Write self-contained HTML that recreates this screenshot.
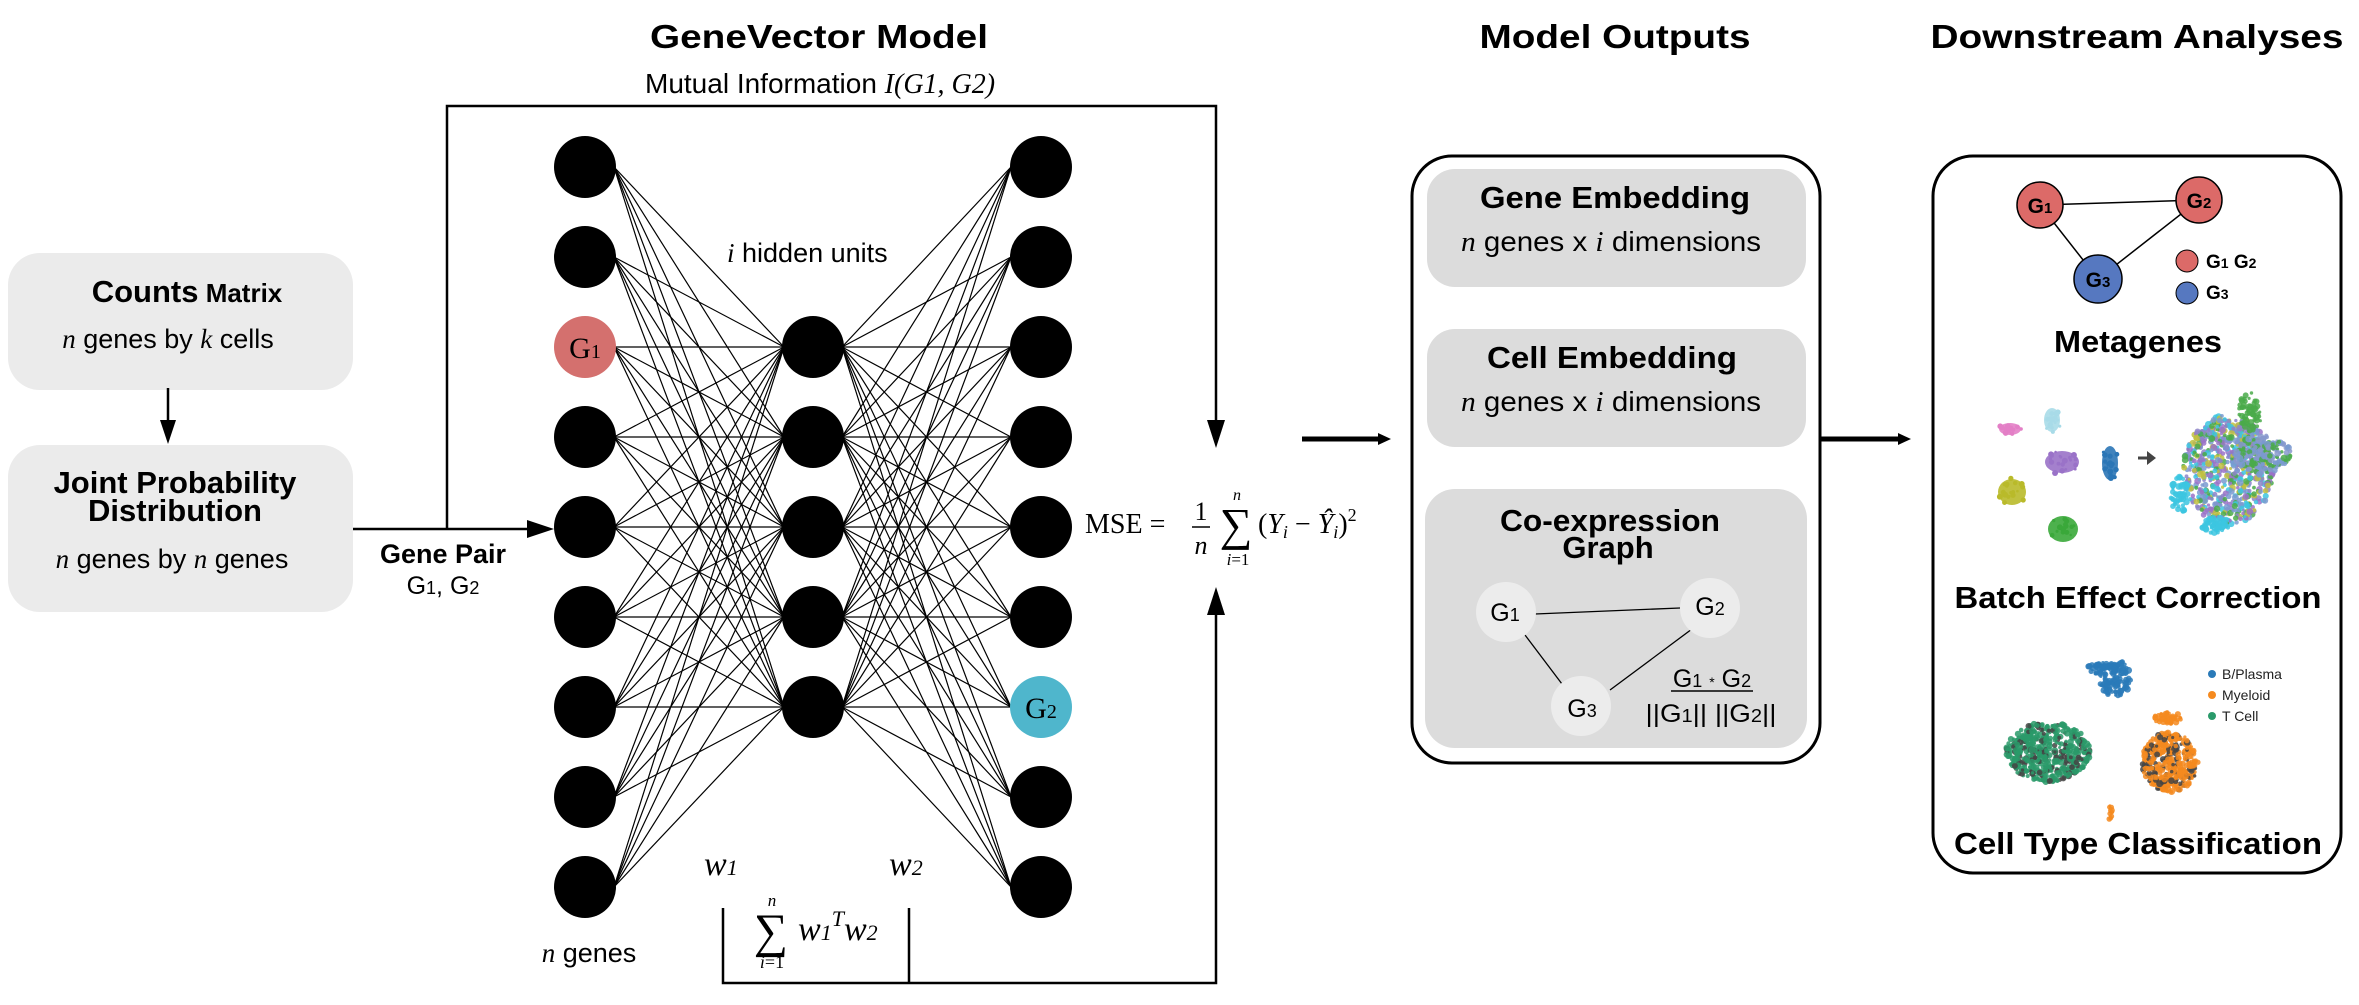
<!DOCTYPE html>
<html><head><meta charset="utf-8"><style>
html,body{margin:0;padding:0;background:#fff;width:2359px;height:1005px;overflow:hidden}
svg{display:block}
.b{font-family:"Liberation Sans",sans-serif;font-weight:bold}
.s{font-family:"Liberation Sans",sans-serif}
.r{font-family:"Liberation Serif",serif}
</style></head><body>
<svg width="2359" height="1005" viewBox="0 0 2359 1005" xmlns="http://www.w3.org/2000/svg">
<!-- Titles -->
<text class="b" x="819" y="48" font-size="33" text-anchor="middle" textLength="338" lengthAdjust="spacingAndGlyphs">GeneVector Model</text>
<text class="b" x="1615" y="48" font-size="33" text-anchor="middle" textLength="271" lengthAdjust="spacingAndGlyphs">Model Outputs</text>
<text class="b" x="2137" y="48" font-size="33" text-anchor="middle" textLength="413" lengthAdjust="spacingAndGlyphs">Downstream Analyses</text>
<text x="645" y="93" font-size="28"><tspan class="s">Mutual Information </tspan><tspan class="r" font-style="italic">I(G1, G2)</tspan></text>

<!-- Left boxes -->
<rect x="8" y="253" width="345" height="137" rx="32" fill="#ebebeb"/>
<text x="187" y="302" text-anchor="middle" class="b"><tspan font-size="31">Counts</tspan><tspan font-size="26"> Matrix</tspan></text>
<text x="168" y="348" text-anchor="middle" font-size="27"><tspan class="r" font-style="italic">n</tspan><tspan class="s"> genes by </tspan><tspan class="r" font-style="italic">k</tspan><tspan class="s"> cells</tspan></text>
<line x1="168" y1="388" x2="168" y2="440" stroke="#000" stroke-width="2.5"/>
<path d="M160,420 L176,420 L168,444z" fill="#000"/>
<rect x="8" y="445" width="345" height="167" rx="32" fill="#ebebeb"/>
<text class="b" x="175" y="493" font-size="31" text-anchor="middle">Joint Probability</text>
<text class="b" x="175" y="521" font-size="31" text-anchor="middle">Distribution</text>
<text x="172" y="568" text-anchor="middle" font-size="27"><tspan class="r" font-style="italic">n</tspan><tspan class="s"> genes by </tspan><tspan class="r" font-style="italic">n</tspan><tspan class="s"> genes</tspan></text>

<!-- connectors left -->
<line x1="353" y1="529" x2="530" y2="529" stroke="#000" stroke-width="2.5"/>
<path d="M527,520 L554,529 L527,538z" fill="#000"/>
<polyline points="447,529 447,106 1216,106 1216,430" fill="none" stroke="#000" stroke-width="2.5"/>
<path d="M1207,420 L1225,420 L1216,448z" fill="#000"/>
<text class="b" x="443" y="563" font-size="27" text-anchor="middle">Gene Pair</text>
<text class="s" x="443" y="594" font-size="25" text-anchor="middle">G<tspan font-size="18">1</tspan>, G<tspan font-size="18">2</tspan></text>

<!-- bottom bracket -->
<polyline points="723,908 723,983 1216,983 1216,605" fill="none" stroke="#000" stroke-width="2.5"/>
<line x1="909" y1="908" x2="909" y2="983" stroke="#000" stroke-width="2.5"/>
<path d="M1207,615 L1225,615 L1216,587z" fill="#000"/>

<g id="net" stroke="#000" stroke-width="1.2"></g>
<g id="nodes"></g>
<text x="727" y="262" font-size="27"><tspan class="r" font-style="italic">i</tspan><tspan class="s"> hidden units</tspan></text>
<text x="589" y="962" font-size="27" text-anchor="middle"><tspan class="r" font-style="italic">n</tspan><tspan class="s"> genes</tspan></text>
<text class="r" font-style="italic" x="704" y="875" font-size="34">w<tspan font-size="22">1</tspan></text>
<text class="r" font-style="italic" x="889" y="875" font-size="34">w<tspan font-size="22">2</tspan></text>
<text class="r" x="771" y="947" font-size="48" text-anchor="middle">∑</text>
<text class="r" font-style="italic" x="772" y="906" font-size="17" text-anchor="middle">n</text>
<text class="r" x="772" y="968" font-size="18" text-anchor="middle"><tspan font-style="italic">i</tspan>=1</text>
<text class="r" font-style="italic" x="798" y="940" font-size="34">w<tspan font-size="22">1</tspan><tspan font-size="22" dy="-14">T</tspan><tspan dy="14">w</tspan><tspan font-size="22">2</tspan></text>

<!-- MSE -->
<text class="r" x="1085" y="533" font-size="28">MSE =</text>
<text class="r" x="1201" y="520" font-size="26" text-anchor="middle">1</text>
<line x1="1192" y1="527" x2="1210" y2="527" stroke="#000" stroke-width="1.5"/>
<text class="r" font-style="italic" x="1201" y="554" font-size="26" text-anchor="middle">n</text>
<text class="r" x="1236" y="540" font-size="46" text-anchor="middle">∑</text>
<text class="r" font-style="italic" x="1237" y="500" font-size="16" text-anchor="middle">n</text>
<text class="r" x="1238" y="565" font-size="17" text-anchor="middle"><tspan font-style="italic">i</tspan>=1</text>
<text class="r" x="1258" y="533" font-size="28">(<tspan font-style="italic">Y</tspan><tspan font-style="italic" font-size="18" dy="5">i</tspan><tspan dy="-5"> − </tspan><tspan font-style="italic">Ŷ</tspan><tspan font-style="italic" font-size="18" dy="5">i</tspan><tspan dy="-5">)</tspan><tspan font-size="18" dy="-12">2</tspan></text>

<!-- arrows -->
<line x1="1302" y1="439" x2="1380" y2="439" stroke="#000" stroke-width="5"/>
<path d="M1378,433 L1391,439 L1378,445z" fill="#000"/>
<line x1="1821" y1="439" x2="1900" y2="439" stroke="#000" stroke-width="5"/>
<path d="M1898,433 L1911,439 L1898,445z" fill="#000"/>

<!-- Model outputs -->
<rect x="1412" y="156" width="408" height="607" rx="40" fill="#fff" stroke="#000" stroke-width="3"/>
<rect x="1427" y="169" width="379" height="118" rx="28" fill="#dcdcdc"/>
<text class="b" x="1615" y="208" font-size="31" text-anchor="middle" textLength="270" lengthAdjust="spacingAndGlyphs">Gene Embedding</text>
<text x="1611" y="251" font-size="28" text-anchor="middle" textLength="300" lengthAdjust="spacingAndGlyphs"><tspan class="r" font-style="italic">n</tspan><tspan class="s"> genes  x </tspan><tspan class="r" font-style="italic">i</tspan><tspan class="s"> dimensions</tspan></text>
<rect x="1427" y="329" width="379" height="118" rx="28" fill="#dcdcdc"/>
<text class="b" x="1612" y="368" font-size="31" text-anchor="middle" textLength="250" lengthAdjust="spacingAndGlyphs">Cell Embedding</text>
<text x="1611" y="411" font-size="28" text-anchor="middle" textLength="300" lengthAdjust="spacingAndGlyphs"><tspan class="r" font-style="italic">n</tspan><tspan class="s"> genes  x </tspan><tspan class="r" font-style="italic">i</tspan><tspan class="s"> dimensions</tspan></text>
<rect x="1425" y="489" width="382" height="259" rx="30" fill="#dcdcdc"/>
<text class="b" x="1610" y="531" font-size="31" text-anchor="middle" textLength="220" lengthAdjust="spacingAndGlyphs">Co-expression</text>
<text class="b" x="1608" y="558" font-size="31" text-anchor="middle">Graph</text>
<line x1="1535" y1="614" x2="1680" y2="608" stroke="#000" stroke-width="1.3"/>
<line x1="1525" y1="635" x2="1562" y2="684" stroke="#000" stroke-width="1.3"/>
<line x1="1692" y1="629" x2="1610" y2="690" stroke="#000" stroke-width="1.3"/>
<circle cx="1506" cy="612" r="30" fill="#ececec"/>
<circle cx="1710" cy="608" r="30" fill="#ececec"/>
<circle cx="1581" cy="706" r="30" fill="#ececec"/>
<text class="s" x="1505" y="621" font-size="25" text-anchor="middle">G<tspan font-size="18">1</tspan></text>
<text class="s" x="1710" y="615" font-size="25" text-anchor="middle">G<tspan font-size="18">2</tspan></text>
<text class="s" x="1582" y="717" font-size="25" text-anchor="middle">G<tspan font-size="18">3</tspan></text>
<text class="s" x="1712" y="687" font-size="25" text-anchor="middle">G<tspan font-size="18">1</tspan> <tspan font-size="14">*</tspan> G<tspan font-size="18">2</tspan></text>
<line x1="1671" y1="691" x2="1753" y2="691" stroke="#000" stroke-width="1.5"/>
<text class="s" x="1711" y="722" font-size="25" text-anchor="middle" textLength="131" lengthAdjust="spacingAndGlyphs">||G<tspan font-size="18">1</tspan>||  ||G<tspan font-size="18">2</tspan>||</text>

<!-- Downstream -->
<rect x="1933" y="156" width="408" height="717" rx="40" fill="#fff" stroke="#000" stroke-width="3"/>
<line x1="2040" y1="205" x2="2199" y2="200" stroke="#000" stroke-width="1.5"/>
<line x1="2040" y1="205" x2="2098" y2="279" stroke="#000" stroke-width="1.5"/>
<line x1="2199" y1="200" x2="2098" y2="279" stroke="#000" stroke-width="1.5"/>
<circle cx="2040" cy="205" r="23" fill="#dc6a68" stroke="#000" stroke-width="1.5"/>
<circle cx="2199" cy="200" r="23" fill="#dc6a68" stroke="#000" stroke-width="1.5"/>
<circle cx="2098" cy="279" r="24" fill="#5678c0" stroke="#000" stroke-width="1.5"/>
<text class="b" x="2040" y="213" font-size="21" text-anchor="middle">G<tspan font-size="15">1</tspan></text>
<text class="b" x="2199" y="208" font-size="21" text-anchor="middle">G<tspan font-size="15">2</tspan></text>
<text class="b" x="2098" y="287" font-size="21" text-anchor="middle">G<tspan font-size="15">3</tspan></text>
<circle cx="2187" cy="261" r="11" fill="#dc6a68" stroke="#000" stroke-width="1"/>
<circle cx="2187" cy="293" r="11" fill="#5678c0" stroke="#000" stroke-width="1"/>
<text class="b" x="2206" y="268" font-size="19">G<tspan font-size="14">1</tspan> G<tspan font-size="14">2</tspan></text>
<text class="b" x="2206" y="299" font-size="19">G<tspan font-size="14">3</tspan></text>
<text class="b" x="2138" y="352" font-size="31" text-anchor="middle" textLength="168" lengthAdjust="spacingAndGlyphs">Metagenes</text>

<g id="blobs"></g>
<path d="M2138,458 L2150,458" stroke="#444" stroke-width="3"/><path d="M2147,451 L2156,458 L2147,465z" fill="#444"/>
<text class="b" x="2138" y="608" font-size="31" text-anchor="middle" textLength="367" lengthAdjust="spacingAndGlyphs">Batch Effect Correction</text>
<circle cx="2212" cy="674" r="4" fill="#2a7ab8"/>
<circle cx="2212" cy="695" r="4" fill="#f58a1f"/>
<circle cx="2212" cy="716" r="4" fill="#2a9a6a"/>
<text class="s" x="2222" y="679" font-size="14" fill="#222">B/Plasma</text>
<text class="s" x="2222" y="700" font-size="14" fill="#222">Myeloid</text>
<text class="s" x="2222" y="721" font-size="14" fill="#222">T Cell</text>
<text class="b" x="2138" y="854" font-size="31" text-anchor="middle" textLength="368" lengthAdjust="spacingAndGlyphs">Cell Type Classification</text>
</svg>
<script>
var ns="http://www.w3.org/2000/svg";
function el(p,t,a){var e=document.createElementNS(ns,t);for(var k in a)e.setAttribute(k,a[k]);p.appendChild(e);return e;}
var seed=7;function rnd(){seed=(seed*16807)%2147483647;return (seed-1)/2147483646;}
var net=document.getElementById('net'),nodes=document.getElementById('nodes');
var L=[],H=[];for(var i=0;i<9;i++)L.push(167+i*90);for(i=0;i<5;i++)H.push(347+i*90);
L.forEach(function(y){H.forEach(function(h){el(net,'line',{x1:614,y1:y,x2:784,y2:h});el(net,'line',{x1:842,y1:h,x2:1011,y2:y});});});
L.forEach(function(y,i){
 el(nodes,'circle',{cx:585,cy:y,r:31,fill:i==2?'#d4706e':'#000'});
 el(nodes,'circle',{cx:1041,cy:y,r:31,fill:i==6?'#4fb6cc':'#000'});
});
H.forEach(function(y){el(nodes,'circle',{cx:813,cy:y,r:31,fill:'#000'});});
function t(x,y,s){var e=el(nodes,'text',{x:x,y:y,'font-size':30,'text-anchor':'middle','font-family':'Liberation Serif, serif'});e.textContent='G';var sp=el(e,'tspan',{'font-size':20});sp.textContent=s;}
t(585,358,'1');t(1041,718,'2');
var b=document.getElementById('blobs');
function blob(cx,cy,rx,ry,c,n){el(b,'ellipse',{cx:cx,cy:cy,rx:rx,ry:ry,fill:c,opacity:0.9});
 for(var k=0;k<(n||20);k++){var a=rnd()*6.28,r=rnd();el(b,'circle',{cx:cx+Math.cos(a)*rx*r*1.1,cy:cy+Math.sin(a)*ry*r*1.1,r:1.2+rnd()*1.8,fill:c});}}
function cloud(cx,cy,rx,ry,cols,n){for(var k=0;k<n;k++){var a=rnd()*6.28,r=Math.sqrt(rnd());el(b,'circle',{cx:cx+Math.cos(a)*rx*r,cy:cy+Math.sin(a)*ry*r,r:1.5+rnd()*2,fill:cols[k%cols.length],opacity:0.85});}}
blob(2010,429,11,6,'#e37fc6');blob(2052,420,8,12,'#a8dbe8');blob(2062,462,17,11,'#9a72c8');
blob(2110,463,8,17,'#2b76b6');blob(2012,492,14,13,'#b9ba2a');blob(2063,529,15,13,'#3aa83a');
cloud(2228,470,45,55,['#8d84c8','#7a9ad0','#c0c040','#4aaa4a','#3cc6e0','#9a72c8'],700);
cloud(2263,455,28,20,['#8899cc','#7a9ad0','#4aaa4a'],200);
cloud(2250,412,12,20,['#4aaa4a'],60);
cloud(2180,495,10,18,['#3cc6e0'],60);cloud(2215,525,14,8,['#3cc6e0'],50);
cloud(2115,678,16,18,['#2a7ab8'],120);cloud(2100,668,12,6,['#2a7ab8'],30);
cloud(2048,752,42,30,['#2a9a6a','#2a9a6a','#2a9a6a','#444'],500);
cloud(2170,762,28,30,['#f58a1f','#f58a1f','#f58a1f','#444'],400);cloud(2167,718,14,6,['#f58a1f'],50);cloud(2110,812,2,8,['#f58a1f'],10);
</script>
</body></html>
